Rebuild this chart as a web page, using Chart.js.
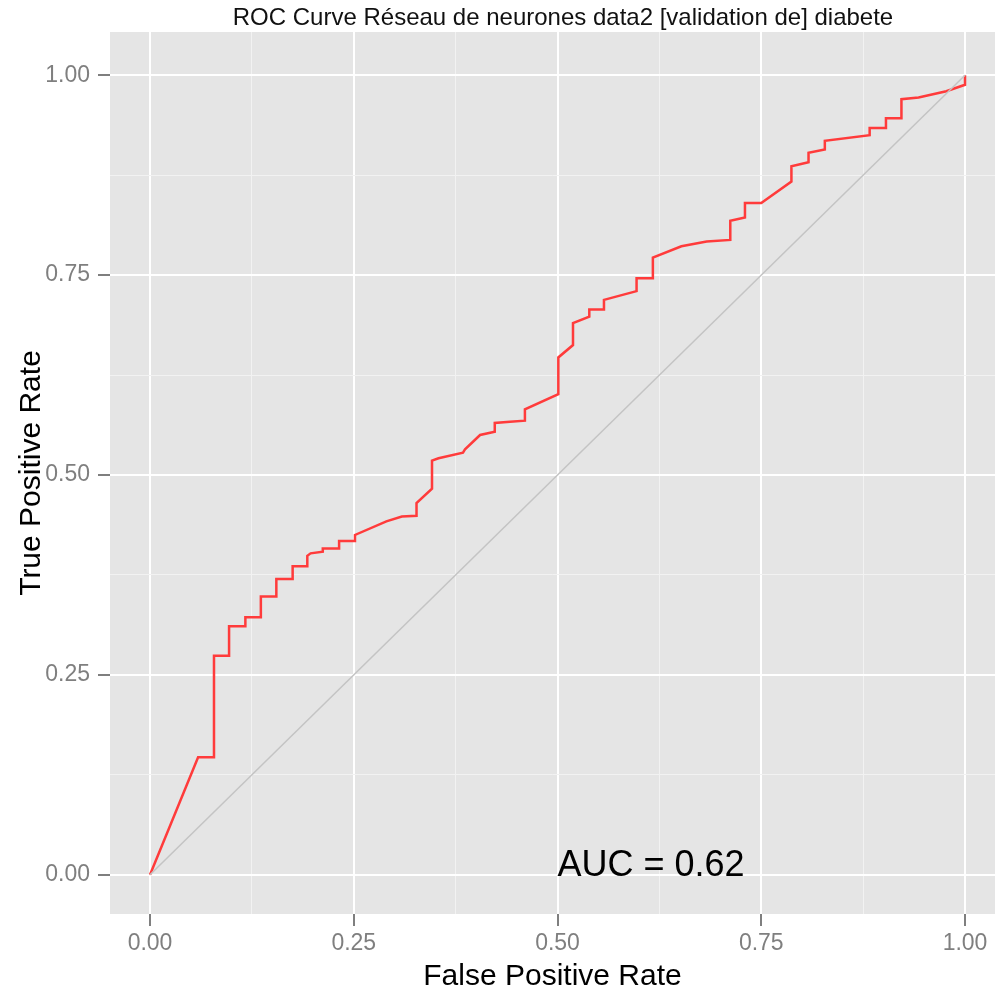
<!DOCTYPE html>
<html lang="fr">
<head>
    <meta charset="UTF-8">
    <title>ROC Curve</title>
    <style>
        body {
            margin: 0;
            background: #fff;
        }
        #roc {
            display: block;
        }
    </style>
</head>
<body>
    <canvas id="roc" width="995" height="993"></canvas>

    <script src="https://cdn.jsdelivr.net/npm/chart.js"></script>

    <script>
        // ROC curve (corner points of the steps)
        const fpr = [0, 0.059, 0.0785, 0.0785, 0.097, 0.097, 0.117, 0.117, 0.136, 0.136,
            0.155, 0.155, 0.175, 0.175, 0.193, 0.193, 0.197, 0.212, 0.212, 0.232,
            0.232, 0.2515, 0.2515, 0.290, 0.309, 0.327, 0.327, 0.346, 0.346, 0.354,
            0.384, 0.3865, 0.405, 0.423, 0.423, 0.4417, 0.460, 0.460, 0.501, 0.501,
            0.519, 0.519, 0.539, 0.539, 0.557, 0.557, 0.597, 0.597, 0.617, 0.617,
            0.652, 0.683, 0.712, 0.712, 0.730, 0.730, 0.750, 0.787, 0.787, 0.808,
            0.808, 0.828, 0.828, 0.883, 0.883, 0.903, 0.903, 0.922, 0.922, 0.943,
            0.977, 1.0, 1.0];
        const tpr = [0, 0.147, 0.147, 0.274, 0.274, 0.311, 0.311, 0.322, 0.322, 0.348,
            0.348, 0.370, 0.370, 0.386, 0.386, 0.399, 0.402, 0.404, 0.408, 0.408,
            0.4175, 0.4175, 0.425, 0.442, 0.448, 0.449, 0.465, 0.483, 0.518, 0.521,
            0.528, 0.532, 0.550, 0.554, 0.565, 0.5666, 0.568, 0.582, 0.601, 0.647,
            0.6625, 0.690, 0.698, 0.707, 0.707, 0.719, 0.730, 0.746, 0.746, 0.772,
            0.786, 0.792, 0.794, 0.818, 0.822, 0.840, 0.840, 0.867, 0.886, 0.891,
            0.903, 0.907, 0.918, 0.925, 0.934, 0.934, 0.946, 0.946, 0.970, 0.972,
            0.980, 0.988, 1.0];

        // chance diagonal
        const diagX = [0, 1];
        const diagY = [0, 1];

        const majorTicks = [0, 0.25, 0.5, 0.75, 1];
        const minorTicks = [0.125, 0.375, 0.625, 0.875];

        const chartTitle = 'ROC Curve Réseau de neurones data2 [validation de] diabete';
        const xTitle = 'False Positive Rate';
        const yTitle = 'True Positive Rate';
        const aucLabel = 'AUC = 0.62';
        const aucX = 0.5;
        const aucY = 0;

        const FONT = "'Liberation Sans', Arial, sans-serif";

        const rocPoints = fpr.map((x, i) => ({ x: x, y: tpr[i] }));
        const diagPoints = diagX.map((x, i) => ({ x: x, y: diagY[i] }));

        const isMajor = v => majorTicks.some(m => Math.abs(m - v) < 1e-9);

        // grey panel + title (title centred on the panel like ggplot does)
        const panelBg = {
            id: 'panelBg',
            beforeDraw(chart) {
                const { ctx, chartArea: a } = chart;
                ctx.save();
                ctx.fillStyle = '#fff';
                ctx.fillRect(0, 0, chart.width, chart.height);
                ctx.fillStyle = '#e5e5e5';
                ctx.fillRect(a.left, a.top, a.right - a.left, a.bottom - a.top);
                ctx.font = '24px ' + FONT;
                ctx.fillStyle = '#111';
                ctx.textAlign = 'center';
                ctx.textBaseline = 'alphabetic';
                ctx.fillText(chartTitle, 563, 25);
                ctx.restore();
            }
        };

        const aucText = {
            id: 'aucText',
            afterDatasetsDraw(chart) {
                const { ctx, scales } = chart;
                ctx.save();
                ctx.font = '36px ' + FONT;
                ctx.fillStyle = '#000';
                ctx.textAlign = 'left';
                ctx.textBaseline = 'alphabetic';
                ctx.fillText(aucLabel, scales.x.getPixelForValue(aucX), scales.y.getPixelForValue(aucY) + 1);
                ctx.restore();
            }
        };

        function setTicks(scale) {
            scale.ticks = majorTicks.concat(minorTicks).sort((a, b) => a - b).map(v => ({ value: v }));
        }

        const gridOpts = {
            color: c => isMajor(c.tick.value) ? '#ffffff' : '#f2f2f2',
            lineWidth: c => isMajor(c.tick.value) ? 2 : 1,
            tickColor: c => isMajor(c.tick.value) ? '#555555' : 'rgba(0,0,0,0)',
            tickLength: 12,
            tickWidth: 1.5
        };

        new Chart(document.getElementById('roc'), {
            type: 'scatter',
            data: {
                datasets: [
                    {
                        data: diagPoints,
                        showLine: true,
                        borderColor: '#c4c4c4',
                        borderWidth: 1.5,
                        pointRadius: 0
                    },
                    {
                        data: rocPoints,
                        showLine: true,
                        borderColor: '#ff3b3b',
                        borderWidth: 2.5,
                        pointRadius: 0
                    }
                ]
            },
            options: {
                responsive: false,
                animation: false,
                layout: { padding: { top: 32 } },
                plugins: {
                    legend: { display: false },
                    tooltip: { enabled: false },
                    title: { display: false }
                },
                scales: {
                    x: {
                        type: 'linear',
                        min: -0.0491,
                        max: 1.0368,
                        afterBuildTicks: setTicks,
                        afterFit: s => { s.height = 79; },
                        grid: gridOpts,
                        border: { display: false },
                        ticks: {
                            color: '#7f7f7f',
                            font: { family: FONT, size: 23 },
                            padding: 4,
                            callback: v => isMajor(v) ? v.toFixed(2) : ''
                        },
                        title: {
                            display: true,
                            text: xTitle,
                            color: '#000',
                            font: { family: FONT, size: 30, lineHeight: 1.0 },
                            padding: { top: 0, bottom: 1 }
                        }
                    },
                    y: {
                        type: 'linear',
                        min: -0.049,
                        max: 1.054,
                        afterBuildTicks: setTicks,
                        afterFit: s => { s.width = 110; },
                        grid: gridOpts,
                        border: { display: false },
                        ticks: {
                            color: '#7f7f7f',
                            font: { family: FONT, size: 23 },
                            padding: 8,
                            callback: v => isMajor(v) ? v.toFixed(2) : ''
                        },
                        title: {
                            display: true,
                            text: yTitle,
                            color: '#000',
                            font: { family: FONT, size: 30, lineHeight: 1.2 },
                            padding: { top: 14, bottom: 0 }
                        }
                    }
                }
            },
            plugins: [panelBg, aucText]
        });
    </script>
</body>
</html>
